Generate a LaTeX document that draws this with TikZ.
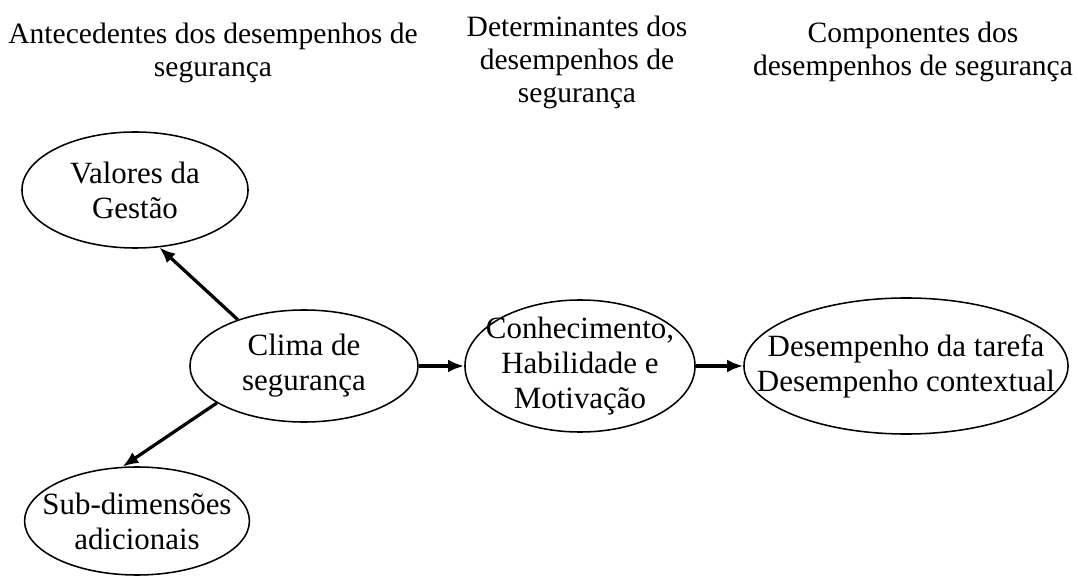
\documentclass[tikz,border=0pt]{standalone}
\usepackage{fontspec}
\setmainfont{Liberation Serif}
\usetikzlibrary{arrows,arrows.meta,shapes,positioning}

\begin{document}
\begin{tikzpicture}[x=0.025cm,y=-0.025cm,
        oval/.style={ellipse, draw, line width=1.1pt, inner sep=0pt},
        lbl/.style={align=center, font=\fontsize{22}{25}\selectfont},
        head/.style={align=center, font=\fontsize{21}{23.5}\selectfont},
        link/.style={-{Latex[length=4mm,width=3.2mm]}, line width=2.3pt}]
        \useasboundingbox (0,0) rectangle (1078,576);
        % column headings
        \node[head] (ante) at (213,53) {Antecedentes dos desempenhos de\\segurança};
        \node[head] (dete) at (577,62) {Determinantes dos\\desempenhos de\\segurança};
        \node[head] (comp) at (913,52) {Componentes dos\\desempenhos de segurança};
        % ellipses
        \node[oval, minimum width=5.65cm, minimum height=2.9cm] (valores) at (135,190) {};
        \node[oval, minimum width=5.7cm, minimum height=2.8cm] (clima) at (304,366) {};
        \node[oval, minimum width=5.62cm, minimum height=2.7cm] (subdim) at (137,521) {};
        \node[oval, minimum width=5.75cm, minimum height=3.3cm] (conh) at (580,366) {};
        \node[oval, minimum width=8.1cm, minimum height=3.4cm] (desemp) at (906,366) {};
        % texts
        \node[lbl] (valores-t) at (valores) {Valores da\\Gestão};
        \node[lbl] (clima-t) at (clima) {Clima de\\segurança};
        \node[lbl] (subdim-t) at (subdim) {Sub-dimensões\\adicionais};
        \node[lbl] (conh-t) at (conh) {Conhecimento,\\Habilidade e\\Motivação};
        \node[lbl] (desemp-t) at (desemp) {Desempenho da tarefa\\Desempenho contextual};
        % arrows
        \draw[link] (clima.145) -- (valores.-67);
        \draw[link] (clima.203) -- (subdim.105);
        \draw[link] (clima.east) -- (conh.west);
        \draw[link] (conh.east) -- (desemp.west);
\end{tikzpicture}
\end{document}
